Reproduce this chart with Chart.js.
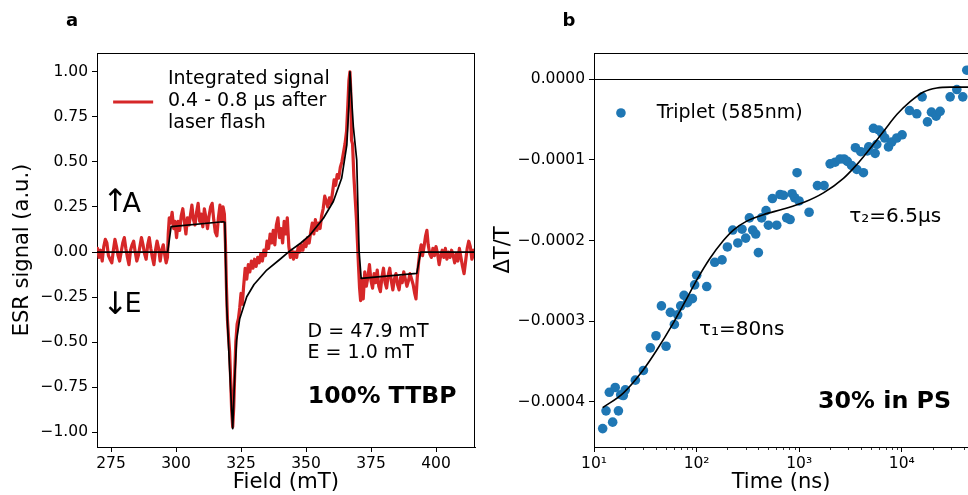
<!DOCTYPE html>
<html>
<head>
<meta charset="utf-8">
<script src="https://cdn.jsdelivr.net/npm/chart.js@4.4.0/dist/chart.umd.min.js"></script>
<style>
  html, body { margin: 0; padding: 0; background: #fff; overflow: hidden; }
  #wrap { position: relative; width: 968px; height: 495px; }
  canvas { position: absolute; top: 0; }
  #esrChart { left: 0; }
  #tripletChart { left: 484px; }
</style>
</head>
<body>
<div id="wrap">
  <canvas id="esrChart" width="484" height="495"></canvas>
  <canvas id="tripletChart" width="484" height="495"></canvas>
</div>
<script>
// ---- panel a: ESR signal (integrated, red) and simulation (black) ----
let fieldRed = [
  269.8, 270.4, 271.0, 271.6, 272.2, 272.8, 273.4, 274.0, 274.6, 275.3, 275.9, 276.5, 277.1, 277.7, 278.3, 278.9,
  279.5, 280.1, 280.7, 281.3, 281.9, 282.5, 283.1, 283.7, 284.3, 284.9, 285.5, 286.1, 286.7, 287.3, 287.9, 288.5,
  289.1, 289.7, 290.3, 290.9, 291.5, 292.1, 292.7, 293.3, 293.9, 294.5, 295.1, 295.7, 296.2, 296.7,
  297.0, 297.4, 297.9, 298.5, 299.1, 299.6, 300.2, 300.8, 301.4, 302.0, 302.6, 303.2, 303.8, 304.4, 305.0, 305.6,
  306.1, 306.7, 307.3, 307.9, 308.5, 309.1, 309.7, 310.3, 310.9, 311.5, 312.1, 312.7, 313.3, 313.9, 314.5, 315.1,
  315.7, 316.3, 316.9, 317.5, 318.1, 318.6,
  319.0, 319.4, 319.8, 320.2, 320.6, 321.0, 321.4, 321.8, 322.2, 322.6, 323.0, 323.5, 324.0, 324.5, 325.0, 325.5,
  326.0, 326.6, 327.2, 327.8, 328.4, 329.0, 329.6, 330.2, 330.8, 331.4, 332.0, 332.6, 333.2, 333.8, 334.4, 335.0,
  335.6, 336.2, 336.8, 337.4, 338.0, 338.6, 339.2, 339.8, 340.4, 341.0, 341.6, 342.2, 342.8, 343.4,
  344.0, 344.6, 345.2, 345.8, 346.4, 347.0, 347.6, 348.2, 348.8, 349.4, 350.0, 350.6, 351.2, 351.8, 352.4, 353.0,
  353.6, 354.2, 354.8, 355.4, 356.0, 356.6, 357.2, 357.8, 358.4, 359.0, 359.6, 360.2, 360.8, 361.4, 362.0, 362.6,
  363.2, 363.8, 364.4, 365.0, 365.6, 366.1, 366.5, 366.9, 367.2, 367.5, 367.9, 368.4, 368.9, 369.4, 369.8, 370.2,
  370.6, 371.0,
  371.5, 372.0, 372.6, 373.2, 373.8, 374.4, 375.0, 375.6, 376.2, 376.8, 377.4, 378.0, 378.6, 379.2, 379.8, 380.4,
  381.0, 381.6, 382.2, 382.8, 383.4, 384.0, 384.6, 385.2, 385.8, 386.4, 387.0, 387.6, 388.2, 388.8, 389.4, 390.0,
  390.6, 391.2, 391.8, 392.3, 392.8, 393.3,
  393.8, 394.3, 394.8, 395.4, 396.0, 396.5, 397.0, 397.6, 398.2, 398.8, 399.4, 400.0, 400.6, 401.2, 401.8, 402.4,
  403.0, 403.6, 404.2, 404.8, 405.4, 406.0, 406.6, 407.2, 407.8, 408.4, 409.0, 409.6, 410.2, 410.8, 411.4, 412.0,
  412.6, 413.2, 413.8, 414.4, 415.0
];
let esrRed = [
  0.02, -0.03, 0.01, -0.05, 0.03, 0.07, 0.05, -0.02, -0.04, -0.06, 0.01, 0.07, 0.03, -0.02, -0.05, 0.00,
  0.05, 0.08, 0.02, -0.03, -0.07, 0.01, 0.04, 0.06, 0.00, -0.05, -0.02, 0.03, 0.08, 0.04, -0.01, -0.04,
  0.04, 0.08, 0.02, -0.03, -0.07, 0.01, 0.06, 0.02, -0.05, 0.01, 0.04, -0.02, -0.06, -0.03,
  0.10, 0.19, 0.16, 0.22, 0.13, 0.17, 0.08, 0.17, 0.12, 0.20, 0.24, 0.17, 0.10, 0.19, 0.15, 0.21,
  0.26, 0.18, 0.15, 0.22, 0.27, 0.17, 0.21, 0.14, 0.24, 0.19, 0.13, 0.20, 0.25, 0.27, 0.18, 0.11,
  0.09, 0.19, 0.26, 0.17, 0.25, 0.21,
  0.05, -0.20, -0.38, -0.47, -0.55, -0.70, -0.88, -0.97, -0.86, -0.66, -0.50, -0.40, -0.37, -0.31, -0.23, -0.29,
  -0.19, -0.09, -0.15, -0.07, -0.11, -0.05, -0.09, -0.04, -0.08, -0.03, -0.06, -0.01, -0.05, 0.01, -0.02, 0.06,
  0.02, 0.10, 0.05, 0.12, 0.04, 0.15, 0.19, 0.08, 0.13, 0.05, 0.17, 0.10, 0.19, 0.03,
  -0.03, 0.01, -0.04, 0.00, -0.03, 0.03, 0.00, 0.04, 0.01, 0.06, 0.03, 0.08, 0.05, 0.11, 0.16, 0.10,
  0.18, 0.12, 0.16, 0.13, 0.20, 0.24, 0.31, 0.28, 0.25, 0.30, 0.27, 0.33, 0.40, 0.37, 0.43, 0.41,
  0.47, 0.50, 0.55, 0.60, 0.67, 0.82, 0.95, 1.00, 0.90, 0.62, 0.60, 0.42, 0.30, 0.18, 0.05, -0.08,
  -0.20, -0.27,
  -0.15, -0.26, -0.11, -0.19, -0.14, -0.07, -0.16, -0.20, -0.12, -0.17, -0.10, -0.19, -0.22, -0.14, -0.09, -0.17,
  -0.20, -0.13, -0.09, -0.16, -0.21, -0.15, -0.12, -0.18, -0.21, -0.14, -0.17, -0.11, -0.15, -0.19, -0.16, -0.12,
  -0.15, -0.18, -0.23, -0.26, -0.14, -0.06,
  0.00, 0.04, -0.02, 0.03, 0.09, 0.12, 0.04, -0.01, -0.03, 0.02, -0.02, 0.03, -0.01, -0.07, -0.02, 0.01,
  -0.03, 0.02, -0.04, 0.00, -0.03, 0.01, -0.02, -0.06, -0.01, -0.05, 0.02, -0.03, -0.08, -0.12, -0.05, 0.02,
  0.06, 0.03, -0.04, 0.01, -0.03
];
let fieldFit = [
  269.6, 296.8, 298.1, 318.0, 318.8, 319.0, 319.5, 320.3, 321.3, 321.8, 322.4, 323.3, 324.5, 327.2, 330.0, 334.9,
  340.0, 343.8, 348.0, 351.5, 356.7, 360.5, 363.7, 365.7, 366.5, 366.9, 368.2, 369.5, 370.4, 371.2, 392.6, 394.1, 415.0
];
let esrFit = [
  0.0, 0.0, 0.141, 0.168, 0.165, 0.0, -0.30, -0.55, -0.85, -0.98, -0.75, -0.489, -0.37, -0.248, -0.18, -0.10,
  -0.04, 0.006, 0.05, 0.094, 0.187, 0.28, 0.409, 0.594, 0.817, 1.0, 0.696, 0.511, 0.01, -0.146, -0.119, 0.0, 0.0
];
let fieldTicks = [275, 300, 325, 350, 375, 400];
let esrTicks = [-1.0, -0.75, -0.5, -0.25, 0.0, 0.25, 0.5, 0.75, 1.0];

// ---- panel b: triplet transient absorption (585 nm) and biexponential fit ----
let timeTriplet = [
  12.15, 13.1, 14.1, 15.2, 16.1, 17.3, 18.2, 19.3, 20.2, 25.3, 30.3, 35.4, 40.2, 45.4, 50.4, 55.5,
  60.7, 65.4, 70.0, 75.4, 81.3, 91.0, 95.7, 100.2, 125.5, 150.2, 177, 199.5, 225, 252, 277, 301,
  327, 352, 377, 400, 430, 475, 501, 548, 604, 651, 702, 755, 815, 852, 904, 953,
  997, 1248, 1505, 1747, 2000, 2239, 2502, 2735, 2946, 3233, 3530, 3639, 3980, 4226, 4623, 4764,
  5290, 5495, 5700, 5965, 6380, 6823, 7413, 7980, 8933, 10070, 11870, 13990, 15780, 17780, 19450, 21590,
  23620, 29580, 34360, 39280, 42980
];
let dtTriplet = [
  -4.33e-4, -4.11e-4, -3.88e-4, -4.25e-4, -3.82e-4, -4.11e-4, -3.91e-4, -3.92e-4, -3.85e-4, -3.73e-4, -3.61e-4, -3.33e-4, -3.18e-4, -2.81e-4, -3.31e-4, -2.89e-4,
  -3.04e-4, -2.92e-4, -2.81e-4, -2.68e-4, -2.77e-4, -2.72e-4, -2.55e-4, -2.43e-4, -2.57e-4, -2.27e-4, -2.24e-4, -2.08e-4, -1.87e-4, -2.03e-4, -1.86e-4, -1.97e-4,
  -1.72e-4, -1.87e-4, -1.92e-4, -2.15e-4, -1.72e-4, -1.63e-4, -1.81e-4, -1.48e-4, -1.81e-4, -1.43e-4, -1.44e-4, -1.72e-4, -1.74e-4, -1.42e-4, -1.47e-4, -1.16e-4,
  -1.51e-4, -1.65e-4, -1.32e-4, -1.32e-4, -1.05e-4, -1.03e-4, -0.99e-4, -0.99e-4, -1.02e-4, -1.07e-4, -0.85e-4, -1.12e-4, -0.90e-4, -1.16e-4, -0.89e-4, -0.84e-4,
  -0.61e-4, -0.92e-4, -0.81e-4, -0.63e-4, -0.67e-4, -0.73e-4, -0.84e-4, -0.78e-4, -0.73e-4, -0.69e-4, -0.39e-4, -0.43e-4, -0.22e-4, -0.53e-4, -0.41e-4, -0.46e-4,
  -0.40e-4, -0.22e-4, -0.13e-4, -0.22e-4, 0.11e-4
];
let timeFit = [
  12.15, 19.3, 30.3, 40.8, 59.4, 80.1, 100.2, 135.2, 182.4, 228.3, 307.9, 447.7, 701.5, 1099, 1722, 2698,
  3639, 4909, 6622, 8933, 12050, 16260, 21930, 29580, 44260
];
let dtFit = [
  -4.07e-4, -3.89e-4, -3.60e-4, -3.36e-4, -3.02e-4, -2.72e-4, -2.49e-4, -2.22e-4, -2.00e-4, -1.87e-4, -1.76e-4, -1.68e-4, -1.61e-4, -1.53e-4, -1.41e-4, -1.23e-4,
  -1.06e-4, -0.86e-4, -0.65e-4, -0.44e-4, -0.28e-4, -0.16e-4, -0.11e-4, -0.10e-4, -0.10e-4
];
let timeTicks = [10, 100, 1000, 10000];
let timeTickLabels = ['10\u00b9', '10\u00b2', '10\u00b3', '10\u2074'];
let timeMinorTicks = [20, 30, 40, 50, 60, 70, 80, 90, 200, 300, 400, 500, 600, 700, 800, 900,
  2000, 3000, 4000, 5000, 6000, 7000, 8000, 9000, 20000, 30000, 40000];
let dtTicks = [-4e-4, -3e-4, -2e-4, -1e-4, 0];

const FONT = "'DejaVu Sans', sans-serif";
Chart.defaults.font.family = FONT;
Chart.defaults.color = '#000';

function minusFmt(v, digits) {
  if (Math.abs(v) < 1e-12) return (0).toFixed(digits);
  return (v < 0 ? '\u2212' : '') + Math.abs(v).toFixed(digits);
}

// spines, zero line, minor ticks, in-axes text and hand-made legends
const framePlugin = {
  id: 'frame',
  afterDatasetsDraw(chart, args, opts) {
    const ctx = chart.ctx, a = chart.chartArea, ys = chart.scales.y;
    if (!opts.zeroLine) return;
    const y0 = Math.round(ys.getPixelForValue(0)) + 0.5;
    ctx.save();
    ctx.strokeStyle = '#000';
    ctx.lineWidth = 1;
    ctx.beginPath();
    ctx.moveTo(a.left, y0);
    ctx.lineTo(a.right, y0);
    ctx.stroke();
    ctx.restore();
  },
  afterDraw(chart, args, opts) {
    const ctx = chart.ctx, a = chart.chartArea, xs = chart.scales.x, ys = chart.scales.y;
    ctx.save();
    ctx.strokeStyle = '#000';
    ctx.lineWidth = 1;
    ctx.beginPath();
    if (opts.top) { ctx.moveTo(a.left, a.top + 0.5); ctx.lineTo(a.right, a.top + 0.5); }
    if (opts.right) { ctx.moveTo(a.right - 0.5, a.top); ctx.lineTo(a.right - 0.5, a.bottom); }
    ctx.stroke();

    (opts.minor || []).forEach(v => {
      const px = Math.round(xs.getPixelForValue(v)) + 0.5;
      if (px > a.right) return;
      ctx.lineWidth = 0.8;
      ctx.beginPath();
      ctx.moveTo(px, a.bottom);
      ctx.lineTo(px, a.bottom + 3);
      ctx.stroke();
    });

    (opts.items || []).forEach(it => {
      if (it.type === 'line') {
        ctx.strokeStyle = it.color;
        ctx.lineWidth = it.width;
        ctx.beginPath();
        ctx.moveTo(xs.getPixelForValue(it.x1), ys.getPixelForValue(it.y));
        ctx.lineTo(xs.getPixelForValue(it.x2), ys.getPixelForValue(it.y));
        ctx.stroke();
      } else if (it.type === 'dot') {
        ctx.fillStyle = it.color;
        ctx.beginPath();
        ctx.arc(xs.getPixelForValue(it.x), ys.getPixelForValue(it.y), it.r, 0, Math.PI * 2);
        ctx.fill();
      } else {
        ctx.fillStyle = '#000';
        ctx.font = (it.bold ? 'bold ' : '') + it.size + 'px ' + FONT;
        ctx.textAlign = it.align || 'left';
        ctx.textBaseline = 'middle';
        ctx.fillText(it.text, xs.getPixelForValue(it.x), ys.getPixelForValue(it.y));
      }
    });

    if (opts.panel) {
      ctx.fillStyle = '#000';
      ctx.font = 'bold 18px ' + FONT;
      ctx.textAlign = 'center';
      ctx.textBaseline = 'middle';
      ctx.fillText(opts.panel.text, opts.panel.x, opts.panel.y);
    }
    ctx.restore();
  }
};

function axisStyle(extra) {
  return Object.assign({
    grid: { drawOnChartArea: false, drawTicks: true, tickLength: 5, color: '#000', lineWidth: 1 },
    border: { display: true, color: '#000', width: 1 },
  }, extra);
}

// Panel a
new Chart(document.getElementById('esrChart'), {
  type: 'scatter',
  data: {
    datasets: [
      {
        data: fieldFit.map((f, i) => ({ x: f, y: esrFit[i] })),
        showLine: true, borderColor: '#000', borderWidth: 1.7, pointRadius: 0, order: 0,
        borderJoinStyle: 'round'
      },
      {
        data: fieldRed.map((f, i) => ({ x: f, y: esrRed[i] })),
        showLine: true, borderColor: '#d62728', borderWidth: 3.2, pointRadius: 0, order: 1,
        borderJoinStyle: 'round', borderCapStyle: 'round'
      }
    ]
  },
  options: {
    responsive: false, animation: false, events: [],
    layout: { padding: { top: 53, right: 9, left: 0, bottom: 0 }, autoPadding: false },
    plugins: {
      legend: { display: false }, tooltip: { enabled: false },
      frame: {
        zeroLine: true, top: true, right: true,
        panel: { text: 'a', x: 72, y: 21 },
        items: [
          { type: 'line', x1: 275.8, x2: 291.2, y: 0.832, color: '#d62728', width: 3 },
          { text: 'Integrated signal', x: 296.9, y: 0.961, size: 19 },
          { text: '0.4 - 0.8 \u03bcs after', x: 296.9, y: 0.839, size: 19 },
          { text: 'laser flash', x: 296.9, y: 0.717, size: 19 },
          { text: '\u2191', x: 276.7, y: 0.272, size: 31, align: 'center' },
          { text: 'A', x: 279.4, y: 0.261, size: 27 },
          { text: '\u2193', x: 276.7, y: -0.30, size: 31, align: 'center' },
          { text: 'E', x: 280.2, y: -0.294, size: 27 },
          { text: 'D = 47.9 mT', x: 350.6, y: -0.444, size: 19 },
          { text: 'E = 1.0 mT', x: 350.6, y: -0.561, size: 19 },
          { text: '100% TTBP', x: 350.7, y: -0.806, size: 23.5, bold: true }
        ]
      }
    },
    scales: {
      x: axisStyle({
        type: 'linear', min: 269.6, max: 415,
        afterFit: s => { s.height = 48; },
        afterBuildTicks: s => { s.ticks = fieldTicks.map(v => ({ value: v })); },
        ticks: { font: { size: 15.5 }, color: '#000', padding: 3, maxRotation: 0, autoSkip: false, callback: v => String(v) },
        title: { display: true, text: 'Field (mT)', font: { size: 21.3 }, color: '#000', padding: { top: 0, bottom: 0 } }
      }),
      y: axisStyle({
        type: 'linear', min: -1.0817, max: 1.104,
        afterFit: s => { s.width = 97; },
        afterBuildTicks: s => { s.ticks = esrTicks.map(v => ({ value: v })); },
        ticks: { font: { size: 15.5 }, color: '#000', padding: 4, autoSkip: false, callback: v => minusFmt(v, 2) },
        title: { display: true, text: 'ESR signal (a.u.)', font: { size: 21 }, color: '#000', padding: { top: 10, bottom: 0 } }
      })
    }
  },
  plugins: [framePlugin]
});

// Panel b
new Chart(document.getElementById('tripletChart'), {
  type: 'scatter',
  data: {
    datasets: [
      {
        data: timeFit.map((t, i) => ({ x: t, y: dtFit[i] })),
        showLine: true, borderColor: '#000', borderWidth: 1.6, pointRadius: 0, order: 0,
        cubicInterpolationMode: 'monotone'
      },
      {
        data: timeTriplet.map((t, i) => ({ x: t, y: dtTriplet[i] })),
        showLine: false, pointRadius: 4.8, pointBorderWidth: 0,
        backgroundColor: '#1f77b4', pointBackgroundColor: '#1f77b4', order: 1
      }
    ]
  },
  options: {
    responsive: false, animation: false, events: [],
    layout: { padding: { top: 53, right: 0, left: 0, bottom: 0 }, autoPadding: false },
    plugins: {
      legend: { display: false }, tooltip: { enabled: false },
      frame: {
        zeroLine: true, top: true, right: false,
        minor: timeMinorTicks,
        panel: { text: 'b', x: 85, y: 21 },
        items: [
          { type: 'dot', x: 18.3, y: -0.42e-4, r: 4.8, color: '#1f77b4' },
          { text: 'Triplet (585nm)', x: 40.8, y: -0.42e-4, size: 19 },
          { text: '\u03c4\u2082=6.5\u03bcs', x: 3076, y: -1.705e-4, size: 20 },
          { text: '\u03c4\u2081=80ns', x: 105.4, y: -3.11e-4, size: 20 },
          { text: '30% in PS', x: 1524, y: -4.0e-4, size: 23.8, bold: true }
        ]
      }
    },
    scales: {
      x: axisStyle({
        type: 'logarithmic', min: 10, max: 44160,
        afterFit: s => { s.height = 48; },
        afterBuildTicks: s => { s.ticks = timeTicks.map(v => ({ value: v, major: true })); },
        ticks: { font: { size: 15.5 }, color: '#000', padding: 3, maxRotation: 0, autoSkip: false,
          callback: (v, i) => timeTickLabels[i] },
        title: { display: true, text: 'Time (ns)', font: { size: 21 }, color: '#000', padding: { top: 0, bottom: 0 } }
      }),
      y: axisStyle({
        type: 'linear', min: -4.558e-4, max: 3.23e-5,
        afterFit: s => { s.width = 110; },
        afterBuildTicks: s => { s.ticks = dtTicks.map(v => ({ value: v })); },
        ticks: { font: { size: 15.5 }, color: '#000', padding: 4, autoSkip: false, callback: v => minusFmt(v, 4) },
        title: { display: true, text: '\u0394T/T', font: { size: 21 }, color: '#000', padding: { top: 7, bottom: 0 } }
      })
    }
  },
  plugins: [framePlugin]
});
</script>
</body>
</html>
